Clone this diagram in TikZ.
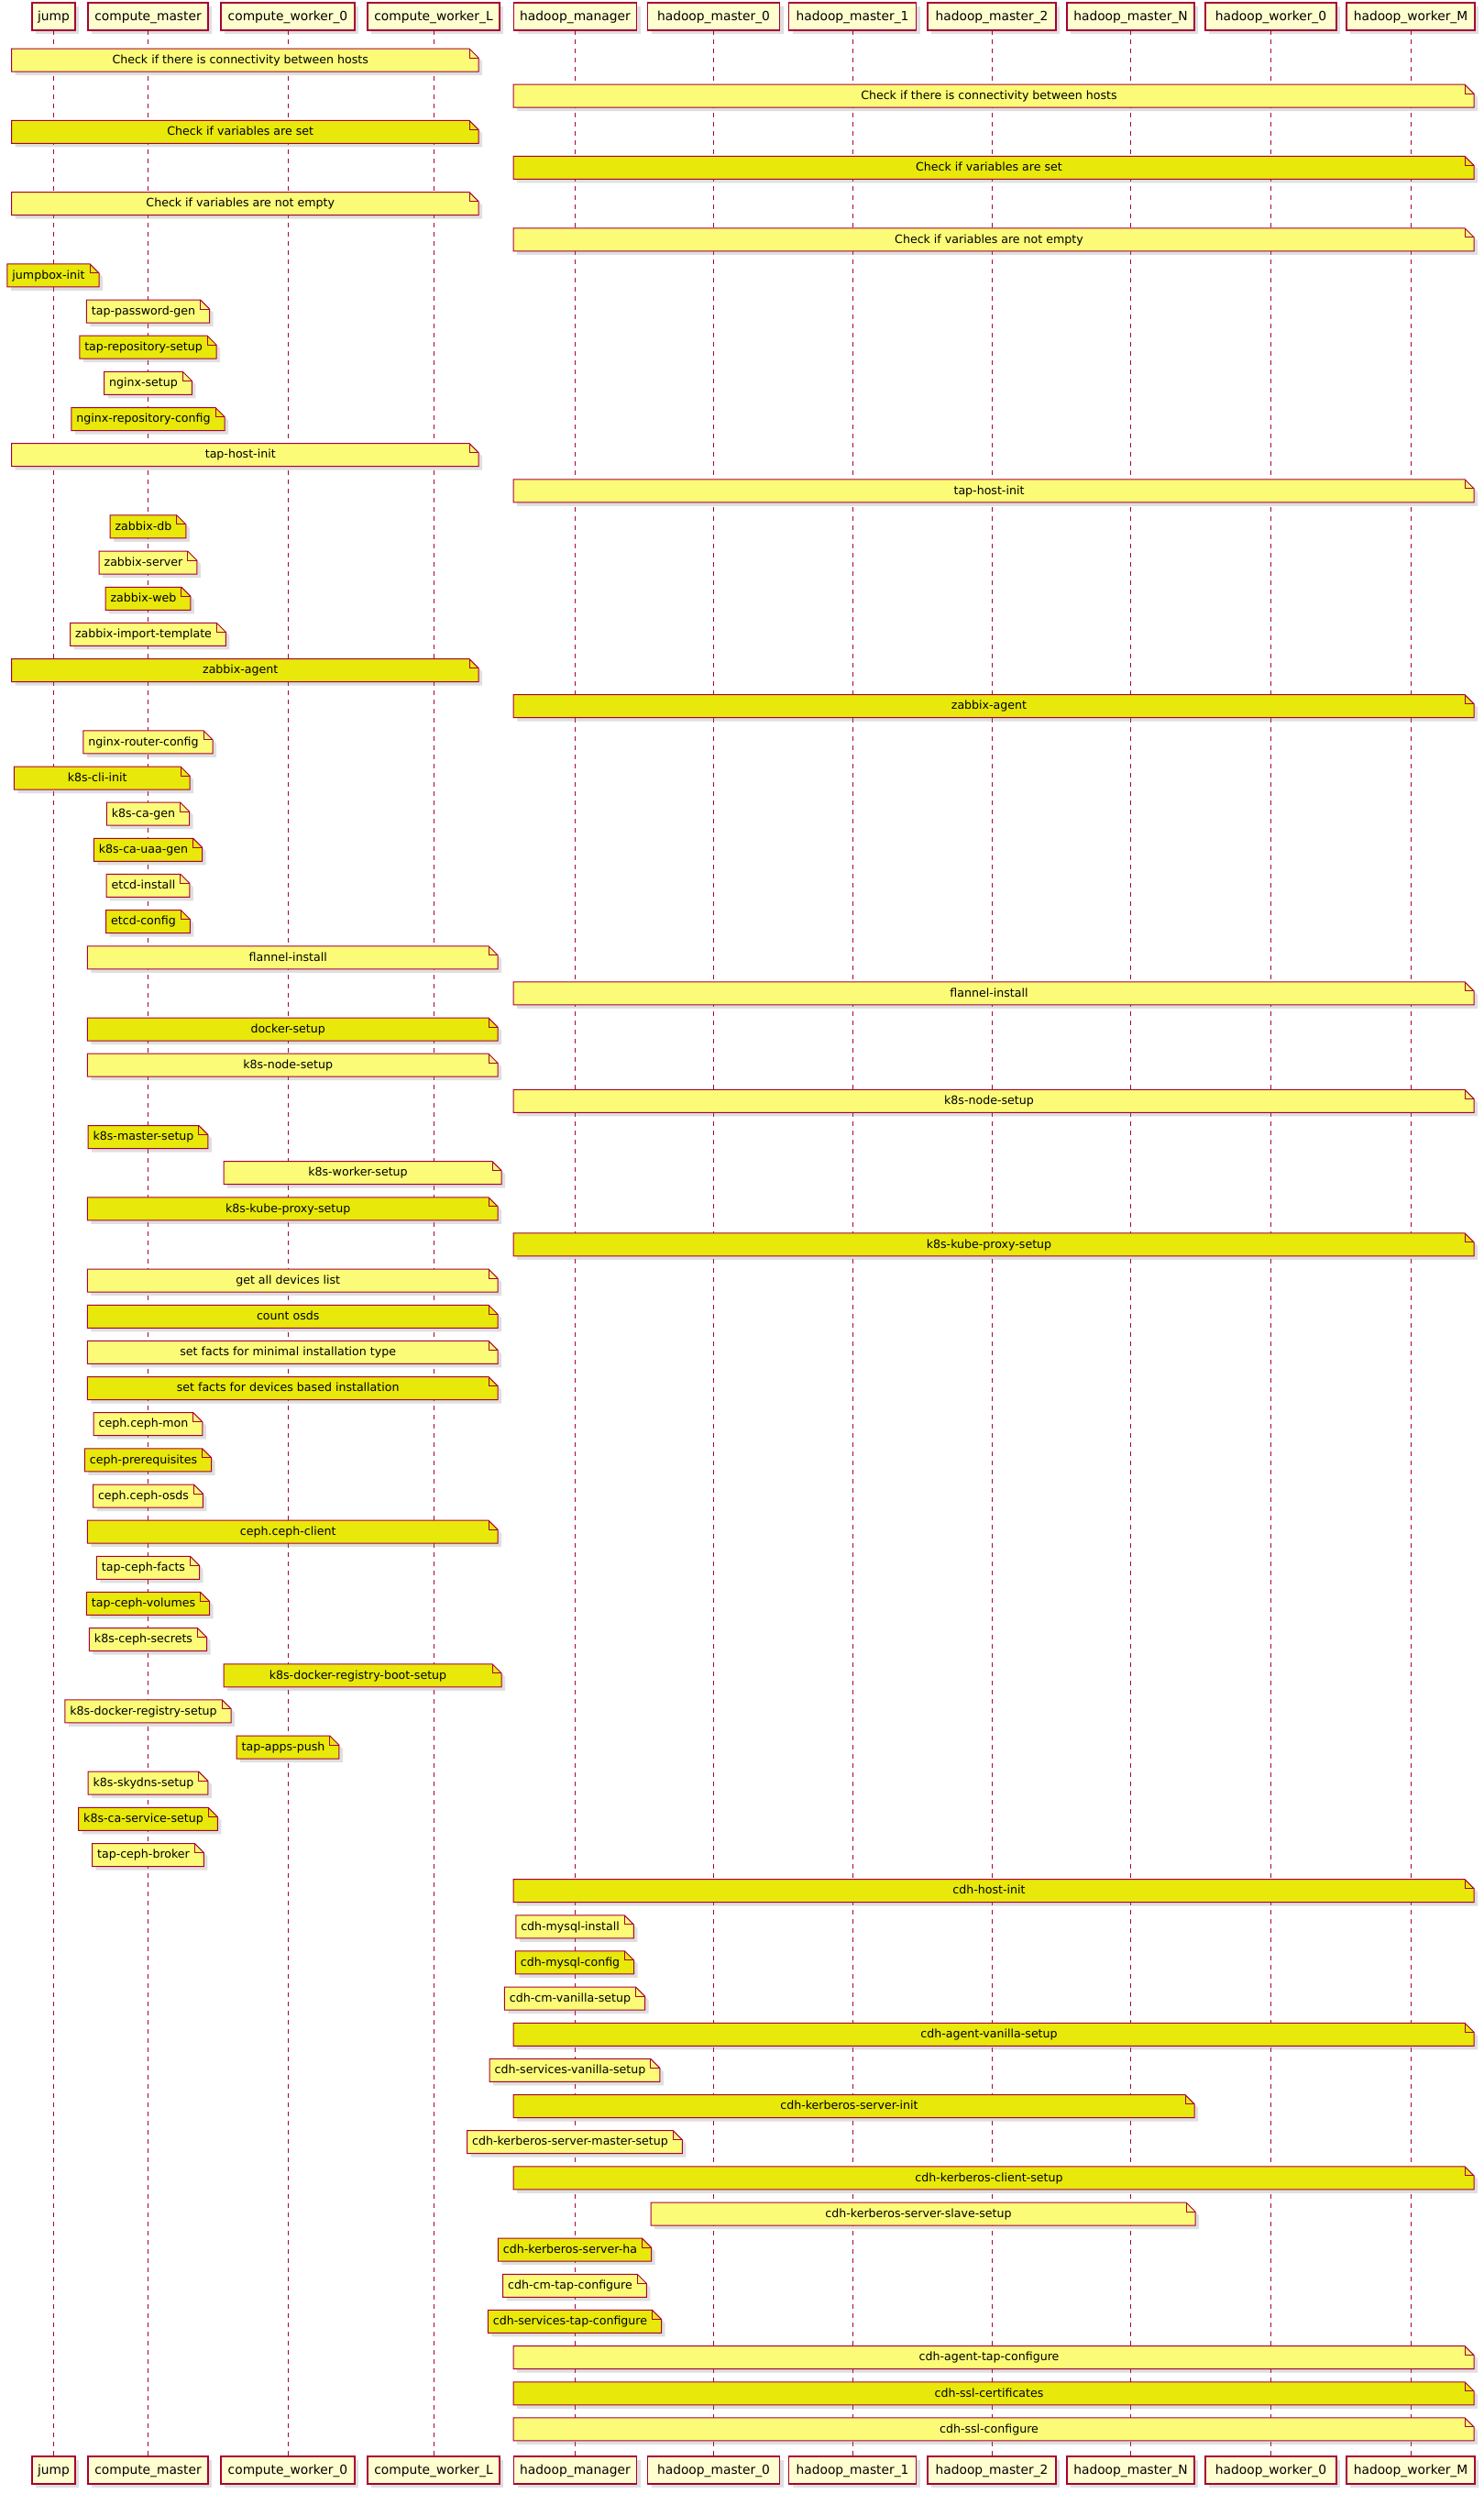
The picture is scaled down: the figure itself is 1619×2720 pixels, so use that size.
\documentclass[tikz,border=0pt]{standalone}
\usepackage{fontspec}
\setmainfont{DejaVu Sans}
\usetikzlibrary{shadows}
\definecolor{umlred}{HTML}{A80036}
\definecolor{boxfill}{HTML}{FEFECE}
\definecolor{nl}{HTML}{FBFB77}
\definecolor{nd}{HTML}{E8E80A}
\newcommand\notefont{\fontsize{12.6}{15}\selectfont}
\newcommand\partfont{\fontsize{13.8}{16}\selectfont}
\makeatletter
\pgfdeclareshape{umlnote}{%
  \inheritsavedanchors[from=rectangle]%
  \inheritanchorborder[from=rectangle]%
  \inheritanchor[from=rectangle]{center}%
  \inheritanchor[from=rectangle]{north}%
  \inheritanchor[from=rectangle]{south}%
  \inheritanchor[from=rectangle]{east}%
  \inheritanchor[from=rectangle]{west}%
  \inheritanchor[from=rectangle]{north east}%
  \inheritanchor[from=rectangle]{north west}%
  \inheritanchor[from=rectangle]{south east}%
  \inheritanchor[from=rectangle]{south west}%
  \inheritanchor[from=rectangle]{text}%
  \inheritanchor[from=rectangle]{base}%
  \inheritanchor[from=rectangle]{mid}%
  \backgroundpath{%
    \southwest \pgf@xa=\pgf@x \pgf@ya=\pgf@y
    \northeast \pgf@xb=\pgf@x \pgf@yb=\pgf@y
    \edef\unxa{\the\pgf@xa}\edef\unya{\the\pgf@ya}%
    \edef\unxb{\the\pgf@xb}\edef\unyb{\the\pgf@yb}%
    \pgfpathmoveto{\pgfqpoint{\unxa}{\unya}}%
    \pgfpathlineto{\pgfqpoint{\unxa}{\unyb}}%
    \pgfpathlineto{\pgfpointadd{\pgfqpoint{\unxb}{\unyb}}{\pgfqpoint{-10pt}{0pt}}}%
    \pgfpathlineto{\pgfpointadd{\pgfqpoint{\unxb}{\unyb}}{\pgfqpoint{0pt}{-10pt}}}%
    \pgfpathlineto{\pgfqpoint{\unxb}{\unya}}%
    \pgfpathclose
  }%
  \foregroundpath{%
    \northeast \pgf@xb=\pgf@x \pgf@yb=\pgf@y
    \edef\unxb{\the\pgf@xb}\edef\unyb{\the\pgf@yb}%
    \pgfsetstrokecolor{umlred}\pgfsetlinewidth{1pt}%
    \pgfpathmoveto{\pgfpointadd{\pgfqpoint{\unxb}{\unyb}}{\pgfqpoint{-10pt}{0pt}}}%
    \pgfpathlineto{\pgfpointadd{\pgfqpoint{\unxb}{\unyb}}{\pgfqpoint{-10pt}{-10pt}}}%
    \pgfpathlineto{\pgfpointadd{\pgfqpoint{\unxb}{\unyb}}{\pgfqpoint{0pt}{-10pt}}}%
    \pgfusepath{stroke}%
  }%
}
\makeatother
\tikzset{
  part/.style={draw=umlred, line width=1.5pt, fill=boxfill, minimum height=30pt,
    inner sep=0pt, outer sep=0pt, font=\partfont, text height=10.8pt, text depth=1.5pt,
    drop shadow={shadow xshift=4pt, shadow yshift=-4pt, opacity=0.25, fill=gray}},
  unote/.style={shape=umlnote, draw=umlred, line width=1pt, minimum height=25pt,
    inner xsep=5.5pt, inner ysep=0pt, outer sep=0pt, font=\notefont,
    text height=10pt, text depth=2.5pt,
    drop shadow={shadow xshift=4pt, shadow yshift=-4pt, opacity=0.25, fill=gray}},
  lifeline/.style={draw=umlred, line width=1pt, dash pattern=on 5pt off 5pt}
}
\newcommand{\snote}[5]{\node[unote, fill=#4] (#1) at (#2, {65.5+(#3-1)*39.15}) {#5\kern10pt};}
\newcommand{\wnote}[6]{\node[unote, fill=#5, minimum width={(#3-#2)*1pt}] (#1) at ({(#2+#3)/2}, {65.5+(#4-1)*39.15}) {#6\kern10pt};}
\newcommand{\participant}[4]{%
  \node[part, minimum width=#3pt] (#1T) at (#2, 18) {#4};
  \node[part, minimum width=#3pt] (#1B) at (#2, 2694) {#4};
}
\begin{document}
\begin{tikzpicture}[x=1pt, y=-1pt]
\fill[white] (0,0) rectangle (1619,2720);
\useasboundingbox (0,0) rectangle (1619,2720);
\participant{jump}{58.5}{47}{jump}
\participant{cm}{161.5}{131}{compute\_master}
\participant{cwz}{314}{146}{compute\_worker\_0}
\participant{cwl}{473}{144}{compute\_worker\_L}
\participant{hm}{627.5}{134}{hadoop\_manager}
\participant{hmz}{778.5}{144}{hadoop\_master\_0}
\participant{hmo}{930}{139}{hadoop\_master\_1}
\participant{hmt}{1082}{140}{hadoop\_master\_2}
\participant{hmn}{1233.5}{139}{hadoop\_master\_N}
\participant{hwz}{1386.5}{143}{hadoop\_worker\_0}
\participant{hwm}{1539}{140}{hadoop\_worker\_M}
\foreach \p in {jump,cm,cwz,cwl,hm,hmz,hmo,hmt,hmn,hwz,hwm}{
  \draw[lifeline] (\p T.south) -- (\p B.north);
}
\wnote{n1}{12.5}{522}{1}{nl}{Check if there is connectivity between hosts}
\wnote{n2}{560}{1608}{2}{nl}{Check if there is connectivity between hosts}
\wnote{n3}{12.5}{522}{3}{nd}{Check if variables are set}
\wnote{n4}{560}{1608}{4}{nd}{Check if variables are set}
\wnote{n5}{12.5}{522}{5}{nl}{Check if variables are not empty}
\wnote{n6}{560}{1608}{6}{nl}{Check if variables are not empty}
\snote{n7}{58}{7}{nd}{jumpbox-init}
\snote{n8}{161.5}{8}{nl}{tap-password-gen}
\snote{n9}{161.5}{9}{nd}{tap-repository-setup}
\snote{n10}{161.5}{10}{nl}{nginx-setup}
\snote{n11}{161.5}{11}{nd}{nginx-repository-config}
\wnote{n12}{12.5}{522}{12}{nl}{tap-host-init}
\wnote{n13}{560}{1608}{13}{nl}{tap-host-init}
\snote{n14}{161.5}{14}{nd}{zabbix-db}
\snote{n15}{161.5}{15}{nl}{zabbix-server}
\snote{n16}{161.5}{16}{nd}{zabbix-web}
\snote{n17}{161.5}{17}{nl}{zabbix-import-template}
\wnote{n18}{12.5}{522}{18}{nd}{zabbix-agent}
\wnote{n19}{560}{1608}{19}{nd}{zabbix-agent}
\snote{n20}{161.5}{20}{nl}{nginx-router-config}
\wnote{n21}{15.4}{207}{21}{nd}{k8s-cli-init}
\snote{n22}{161.5}{22}{nl}{k8s-ca-gen}
\snote{n23}{161.5}{23}{nd}{k8s-ca-uaa-gen}
\snote{n24}{161.5}{24}{nl}{etcd-install}
\snote{n25}{161.5}{25}{nd}{etcd-config}
\wnote{n26}{95.4}{543}{26}{nl}{flannel-install}
\wnote{n27}{560}{1608}{27}{nl}{flannel-install}
\wnote{n28}{95.4}{543}{28}{nd}{docker-setup}
\wnote{n29}{95.4}{543}{29}{nl}{k8s-node-setup}
\wnote{n30}{560}{1608}{30}{nl}{k8s-node-setup}
\snote{n31}{161.5}{31}{nd}{k8s-master-setup}
\wnote{n32}{244}{547}{32}{nl}{k8s-worker-setup}
\wnote{n33}{95.4}{543}{33}{nd}{k8s-kube-proxy-setup}
\wnote{n34}{560}{1608}{34}{nd}{k8s-kube-proxy-setup}
\wnote{n35}{95.4}{543}{35}{nl}{get all devices list}
\wnote{n36}{95.4}{543}{36}{nd}{count osds}
\wnote{n37}{95.4}{543}{37}{nl}{set facts for minimal installation type}
\wnote{n38}{95.4}{543}{38}{nd}{set facts for devices based installation}
\snote{n39}{161.5}{39}{nl}{ceph.ceph-mon}
\snote{n40}{161.5}{40}{nd}{ceph-prerequisites}
\snote{n41}{161.5}{41}{nl}{ceph.ceph-osds}
\wnote{n42}{95.4}{543}{42}{nd}{ceph.ceph-client}
\snote{n43}{161.5}{43}{nl}{tap-ceph-facts}
\snote{n44}{161.5}{44}{nd}{tap-ceph-volumes}
\snote{n45}{161.5}{45}{nl}{k8s-ceph-secrets}
\wnote{n46}{244}{547}{46}{nd}{k8s-docker-registry-boot-setup}
\snote{n47}{161.5}{47}{nl}{k8s-docker-registry-setup}
\snote{n48}{314}{48}{nd}{tap-apps-push}
\snote{n49}{161.5}{49}{nl}{k8s-skydns-setup}
\snote{n50}{161.5}{50}{nd}{k8s-ca-service-setup}
\snote{n51}{161.5}{51}{nl}{tap-ceph-broker}
\wnote{n52}{560}{1608}{52}{nd}{cdh-host-init}
\snote{n53}{627}{53}{nl}{cdh-mysql-install}
\snote{n54}{627}{54}{nd}{cdh-mysql-config}
\snote{n55}{627}{55}{nl}{cdh-cm-vanilla-setup}
\wnote{n56}{560}{1608}{56}{nd}{cdh-agent-vanilla-setup}
\snote{n57}{627}{57}{nl}{cdh-services-vanilla-setup}
\wnote{n58}{560}{1303}{58}{nd}{cdh-kerberos-server-init}
\snote{n59}{627}{59}{nl}{cdh-kerberos-server-master-setup}
\wnote{n60}{560}{1608}{60}{nd}{cdh-kerberos-client-setup}
\wnote{n61}{710}{1304}{61}{nl}{cdh-kerberos-server-slave-setup}
\snote{n62}{627}{62}{nd}{cdh-kerberos-server-ha}
\snote{n63}{627}{63}{nl}{cdh-cm-tap-configure}
\snote{n64}{627}{64}{nd}{cdh-services-tap-configure}
\wnote{n65}{560}{1608}{65}{nl}{cdh-agent-tap-configure}
\wnote{n66}{560}{1608}{66}{nd}{cdh-ssl-certificates}
\wnote{n67}{560}{1608}{67}{nl}{cdh-ssl-configure}
\end{tikzpicture}
\end{document}
